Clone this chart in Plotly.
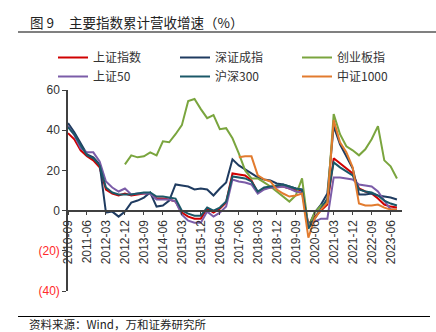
import plotly.graph_objects as go

# ---------------- data ----------------
quarters = [
    "2010-09", "2010-12", "2011-03", "2011-06", "2011-09", "2011-12",
    "2012-03", "2012-06", "2012-09", "2012-12", "2013-03", "2013-06",
    "2013-09", "2013-12", "2014-03", "2014-06", "2014-09", "2014-12",
    "2015-03", "2015-06", "2015-09", "2015-12", "2016-03", "2016-06",
    "2016-09", "2016-12", "2017-03", "2017-06", "2017-09", "2017-12",
    "2018-03", "2018-06", "2018-09", "2018-12", "2019-03", "2019-06",
    "2019-09", "2019-12", "2020-03", "2020-06", "2020-09", "2020-12",
    "2021-03", "2021-06", "2021-09", "2021-12", "2022-03", "2022-06",
    "2022-09", "2022-12", "2023-03", "2023-06", "2023-09",
]

tick_labels = [
    "2010-09", "2011-06", "2012-03", "2012-12", "2013-09", "2014-06",
    "2015-03", "2015-12", "2016-09", "2017-06", "2018-03", "2018-12",
    "2019-09", "2020-06", "2021-03", "2021-12", "2022-09", "2023-06",
]

sh_index = [  # 上证指数
    38.5, 35.5, 30, 27, 25, 21.5, 10.5, 8.5, 7.5, 8.5,
    7.5, 8, 8.5, 8.5, 6, 6, 5.5, 4.5, -1, -3,
    -4, -4, 1, -1, 1, 4, 18.5, 18, 17.5, 15,
    9, 11, 11.5, 12, 12, 11, 10, 10, -7, -3,
    0, 3, 26, 23.5, 21, 18.5, 11, 9.5, 8.5, 6,
    3, 2, 1.5,
]
sz_index = [  # 深证成指
    43.5, 39, 33.5, 28, 26.5, 23, -1, -0.5, -3, -0.5,
    4, 5, 6.5, 9, 2, 2.5, 5, 13, 12.5, 12,
    10.5, 11, 10.5, 7.5, 11, 14, 25.5, 22.5, 20.5, 18.5,
    16.5, 15.5, 15, 13.5, 13, 12, 11, 10.5, -8, -1,
    3, 8.5, 42, 33, 27, 21, 8, 8, 8.5, 7.5,
    7, 6.5, 5.5,
]
cyb_index = [  # 创业板指
    None, None, None, None, None, None, None, None, None, 23,
    27.5, 26.5, 27, 29, 27.5, 34.5, 34, 38, 42.5, 54.5,
    55.5, 50.5, 46, 47.5, 40.5, 41, 36, 28.5, 20, 16,
    16, 14, 12, 9.5, 7, 4.5, 7.5, 16, -8.5, -1,
    2.5, 4, 48, 38, 32, 30, 27.5, 30.5, 35.5, 42,
    25, 22, 16,
]
sz50_index = [  # 上证50
    42, 37.5, 31, 29, 29, 24.5, 14.5, 11.5, 9.5, 11,
    8, 8.5, 8.5, 8.5, 5.5, 5.5, 5.5, 4.5, -2, -5,
    -6, -6, -0.5, -3, -1, 2, 15.5, 14.5, 14, 13,
    8.5, 10.5, 11.5, 11.5, 12, 11, 9.5, 9, -8, -5.5,
    -4, -4, 16.5, 16.5, 16, 15.5, 13, 12.5, 12, 9.5,
    5, 0.5, 0.5,
]
hs300_index = [  # 沪深300
    41.5, 38, 32.5, 27.5, 26, 22.5, 11.5, 9, 8, 8,
    8, 8.5, 9, 9, 7, 7, 6.5, 6, 0, -1.5,
    -2.5, -2.5, 1.5, 0, 1.5, 4.5, 17, 16.5, 16, 14.5,
    9.5, 11.5, 12, 12.5, 13, 12, 11, 10.5, -9, -4,
    1, 6, 24, 21.5, 19.5, 17.5, 10.5, 9.5, 9, 7.5,
    5, 3.5, 2.5,
]
zz1000_index = [  # 中证1000
    None, None, None, None, None, None, None, None, None, None,
    None, None, None, None, None, None, None, None, None, None,
    None, None, None, None, None, None, None, 26.5, 27, 27,
    17.5, 15.5, 14.5, 10.5, 8.5, 7, 7.5, 8.5, -13.5, -4,
    0.5, 4, 45, 34, 29, 21.5, 3.5, 2.5, 2.5, 3,
    1.5, 0.5, 0.5,
]

series_names = ["上证指数", "深证成指", "创业板指", "上证50", "沪深300", "中证1000"]
series_values = [sh_index, sz_index, cyb_index, sz50_index, hs300_index, zz1000_index]
series_colors = ["#D00000", "#1F3B60", "#7AA53E", "#7B5CA8", "#1B5868", "#E27B2E"]

y_tickvals = [-40, -20, 0, 20, 40, 60]
y_ticklabels = ["(40)", "(20)", "0", "20", "40", "60"]

# ---------------- layout helpers ----------------
W, H = 436, 332
ML, MR, MT, MB = 68, 34, 90, 41
PW, PH = W - ML - MR, H - MT - MB


def px_x(p):
    return (p - ML) / PW


def px_y(p):
    return (H - MB - p) / PH


fig = go.Figure()
for name, vals, col in zip(series_names, series_values, series_colors):
    fig.add_trace(go.Scatter(
        x=quarters, y=vals, name=name, mode="lines",
        line=dict(color=col, width=2), connectgaps=False,
    ))

y_text = []
for v, t in zip(y_tickvals, y_ticklabels):
    if v < 0:
        y_text.append("<span style='color:#FF2A2A'>" + t + "</span>")
    else:
        y_text.append(t)

axis_col = "#404040"
fig.update_layout(
    width=W, height=H,
    margin=dict(l=ML, r=MR, t=MT, b=MB, autoexpand=False),
    paper_bgcolor="white", plot_bgcolor="white",
    showlegend=True,
    legend=dict(
        orientation="h", x=px_x(53), xanchor="left", y=px_y(43), yanchor="top",
        entrywidth=77, entrywidthmode="pixels",
        font=dict(family="Noto Sans CJK SC", size=12, color="#333333"),
        bgcolor="rgba(0,0,0,0)", itemwidth=30, tracegroupgap=0,
    ),
    xaxis=dict(
        type="category", categoryorder="array", categoryarray=quarters,
        range=[0, 52.8], tickmode="array", tickvals=tick_labels, ticktext=tick_labels,
        tickangle=-90, ticks="outside", ticklen=4, tickcolor=axis_col, tickwidth=1,
        showline=True, linecolor=axis_col, linewidth=1.5,
        showgrid=False, zeroline=False,
        anchor="free", position=px_y(MT + PH * 0.6),
        tickfont=dict(family="Liberation Sans", size=12, color="#333333"),
    ),
    yaxis=dict(
        range=[-40, 60], tickmode="array", tickvals=y_tickvals, ticktext=y_text,
        ticks="outside", ticklen=4, tickcolor=axis_col, tickwidth=1,
        showline=True, linecolor=axis_col, linewidth=1.5,
        showgrid=False, zeroline=False,
        tickfont=dict(family="Liberation Sans", size=12, color="#333333"),
    ),
)

# title texts
fig.add_annotation(text="图 9", xref="paper", yref="paper", x=px_x(28), y=px_y(22),
                   xanchor="left", yanchor="middle", showarrow=False,
                   font=dict(family="Noto Sans CJK SC", size=13.5, color="#222222"))
fig.add_annotation(text="主要指数累计营收增速（%）", xref="paper", yref="paper",
                   x=px_x(67), y=px_y(22), xanchor="left", yanchor="middle", showarrow=False,
                   font=dict(family="Noto Sans CJK SC", size=13.5, color="#222222"))
fig.add_annotation(text="资料来源：Wind，万和证券研究所", xref="paper", yref="paper",
                   x=px_x(27), y=px_y(324), xanchor="left", yanchor="middle", showarrow=False,
                   font=dict(family="Noto Sans CJK SC", size=11.5, color="#222222"))

fig.add_shape(type="line", xref="paper", yref="paper", x0=px_x(18), x1=px_x(436),
              y0=px_y(32), y1=px_y(32), line=dict(color="#808080", width=2))
fig.add_shape(type="line", xref="paper", yref="paper", x0=px_x(18), x1=px_x(430),
              y0=px_y(316.5), y1=px_y(316.5), line=dict(color="#000000", width=1))

fig.write_html("out.html")
